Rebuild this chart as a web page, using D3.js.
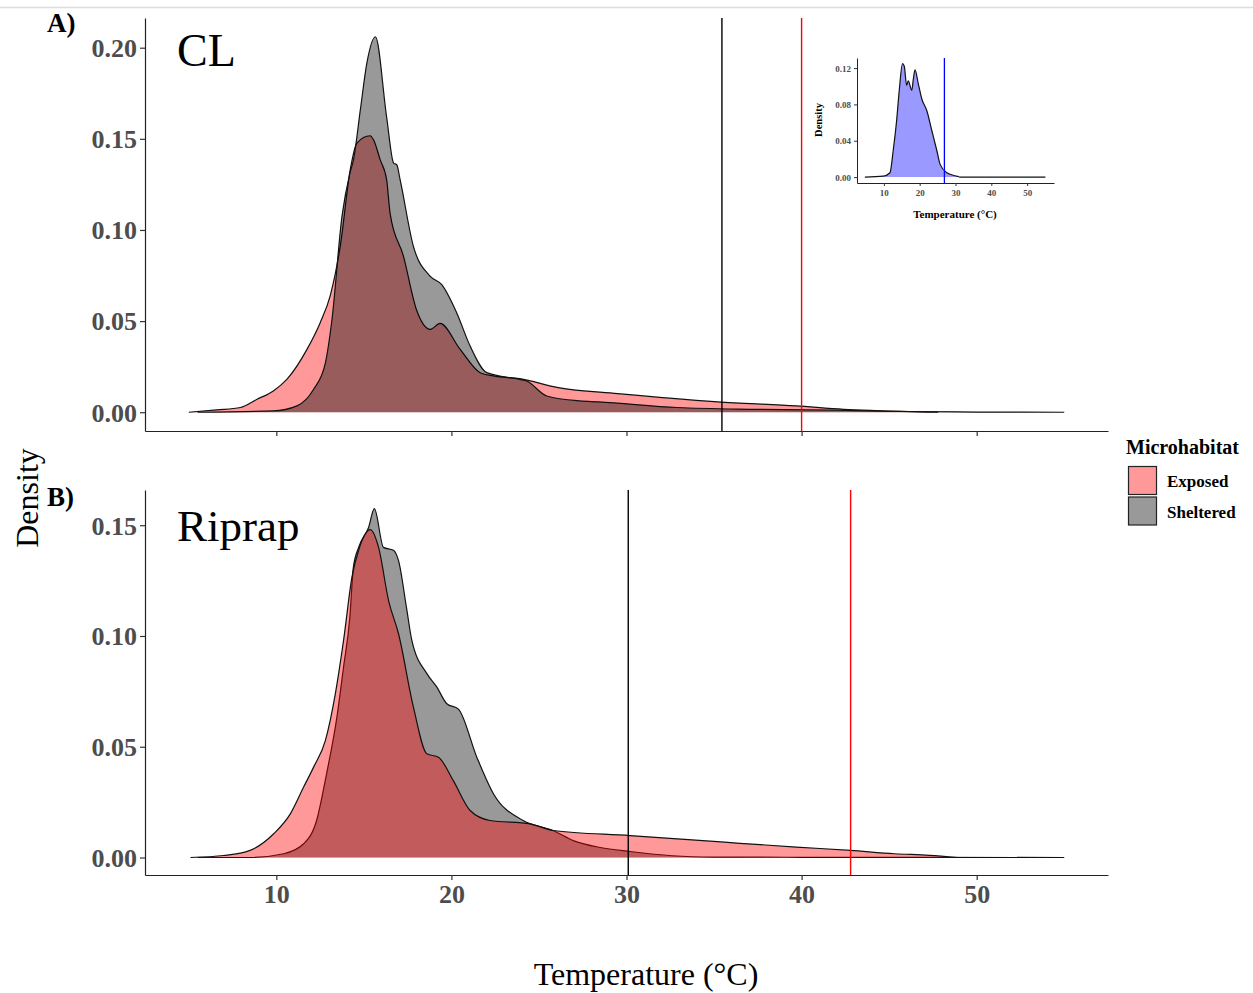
<!DOCTYPE html>
<html lang="en">
<head>
  <meta charset="UTF-8" />
  <title>Temperature density by microhabitat</title>
  <script src="https://d3js.org/d3.v7.min.js"></script>
  <style>
    body { margin: 0; background: #fff; }
    svg { display: block; font-family: 'Liberation Serif', 'Times New Roman', serif; }
    svg text { font-family: 'Liberation Serif', 'Times New Roman', serif; }
    .tick-label { font-weight: bold; fill: #4d4d4d; }
  </style>
</head>
<body>
  <svg id="chart" width="1253" height="993"></svg>

  <script>
    // Temperature values (°C) and density, per series
    const clExposedT = [5.0, 6.6, 7.95, 8.9, 9.83, 10.6, 11.75, 12.5, 13.08, 13.65, 14.22, 14.6, 15.36, 15.55, 15.93, 16.3, 16.5, 17.26, 18.0, 18.8, 19.35, 20.5, 21.64, 22.4, 23.9, 26.1, 29.5, 35.2, 39.7, 42.4, 44.2, 47.8];
    const clExposedD = [0, 0.0013, 0.0026, 0.0071, 0.0117, 0.018, 0.0345, 0.049, 0.064, 0.091, 0.133, 0.1477, 0.1517, 0.1495, 0.1386, 0.1276, 0.109, 0.0856, 0.0564, 0.0455, 0.0487, 0.0345, 0.0217, 0.0199, 0.0184, 0.0135, 0.0102, 0.0057, 0.0035, 0.0016, 0.0009, 0];

    const clShelteredT = [5.5, 9.8, 11.18, 12.13, 12.8, 13.18, 13.75, 14.2, 14.41, 14.8, 15.17, 15.66, 16.3, 16.7, 16.88, 17.07, 17.83, 18.78, 19.45, 20.3, 21.07, 22.02, 23.9, 24.3, 25.45, 27.35, 28.4, 32.9, 37.4, 41.9, 46.0, 50.0, 55.0];
    const clShelteredD = [0, 0.0007, 0.0035, 0.0126, 0.027, 0.051, 0.1075, 0.131, 0.1386, 0.166, 0.1915, 0.206, 0.162, 0.1367, 0.1358, 0.1276, 0.091, 0.0747, 0.070, 0.0546, 0.0363, 0.0217, 0.018, 0.0171, 0.0089, 0.0062, 0.0057, 0.0026, 0.0016, 0.0011, 0.0004, 0.0001, 0];

    const ripExposedT = [5.1, 7.0, 8.5, 9.85, 10.8, 11.56, 12.13, 12.8, 13.37, 13.84, 14.32, 14.7, 15.36, 15.84, 16.41, 16.98, 17.83, 18.6, 19.26, 20.1, 21.07, 22.2, 24.5, 25.8, 30.2, 35.6, 39.7, 42.8, 45.3, 47.3, 48.9];
    const ripExposedD = [0, 0.0009, 0.0032, 0.0107, 0.0197, 0.0318, 0.0408, 0.0528, 0.0739, 0.098, 0.1266, 0.1387, 0.148, 0.140, 0.116, 0.101, 0.0679, 0.0468, 0.0453, 0.0348, 0.0212, 0.0167, 0.0152, 0.0122, 0.0099, 0.0069, 0.0047, 0.0032, 0.0017, 0.001, 0];

    const ripShelteredT = [5.5, 8.5, 10.42, 11.56, 12.3, 12.87, 13.46, 13.84, 14.2, 14.4, 14.7, 15.27, 15.6, 16.12, 16.69, 16.98, 17.45, 17.74, 18.6, 19.17, 19.74, 20.4, 21.45, 22.4, 24.1, 25.8, 27.0, 28.5, 30.2, 32.6, 35.0, 40.0, 55.0];
    const ripShelteredD = [0, 0, 0.0017, 0.0062, 0.0167, 0.0378, 0.0634, 0.086, 0.1085, 0.131, 0.140, 0.149, 0.1575, 0.140, 0.1387, 0.134, 0.112, 0.098, 0.083, 0.0769, 0.0694, 0.067, 0.0453, 0.0288, 0.0167, 0.0122, 0.0075, 0.0045, 0.0027, 0.0008, 0.0002, 0.0001, 0];

    // inset: single blue density
    const insetT = [4.7, 9.8, 11.7, 12.6, 13.56, 14.3, 15.2, 15.7, 16.35, 16.8, 17.8, 18.2, 18.7, 19.6, 20.6, 22.0, 23.4, 24.8, 25.7, 27.6, 30.4, 31.3, 55.1];
    const insetD = [0, 0.001, 0.0048, 0.029, 0.062, 0.0956, 0.125, 0.122, 0.101, 0.106, 0.0956, 0.107, 0.118, 0.103, 0.086, 0.073, 0.051, 0.029, 0.014, 0.0048, 0.001, 0, 0];

    // vertical reference lines
    const clLines = [{ x: 35.45, color: "#000" }, { x: 40.0, color: "#ff0000" }];
    const ripLines = [{ x: 30.1, color: "#000" }, { x: 42.8, color: "#ff0000" }];
    const insetLine = 26.9;

    const xTicks = [10, 20, 30, 40, 50];
    const clYTicks = [0, 0.05, 0.10, 0.15, 0.20];
    const ripYTicks = [0, 0.05, 0.10, 0.15];
    const insetYTicks = [0, 0.04, 0.08, 0.12];

    const legendLabels = ["Exposed", "Sheltered"];
    const legendFills = ["rgba(255,0,0,0.4)", "rgba(0,0,0,0.4)"];

    const svg = d3.select('#chart');

    // faint line along the top of the image
    svg.append('line').attr('x1', 0).attr('x2', 1253).attr('y1', 7.5).attr('y2', 7.5)
      .attr('stroke', '#dcdcdc').attr('stroke-width', 1.5);

    const zip = (ts, ds) => ts.map((t, i) => ({ t, d: ds[i] }));

    function drawPanel(opts) {
      const g = svg.append('g');
      const x = d3.scaleLinear().domain([2.5, 57.5]).range(opts.xRange);
      const y = d3.scaleLinear().domain(opts.yDomain).range(opts.yRange);

      const area = d3.area().curve(d3.curveMonotoneX)
        .x(d => x(d.t)).y0(y(0)).y1(d => y(d.d));
      const line = d3.line().curve(d3.curveMonotoneX)
        .x(d => x(d.t)).y(d => y(d.d));

      opts.series.forEach(s => {
        const pts = zip(s.t, s.d);
        g.append('path').attr('d', area(pts)).attr('fill', s.fill);
        g.append('path').attr('d', line(pts)).attr('fill', 'none')
          .attr('stroke', '#111').attr('stroke-width', opts.lw);
      });

      opts.vlines.forEach(v => {
        g.append('line')
          .attr('x1', x(v.x)).attr('x2', x(v.x))
          .attr('y1', opts.yRange[1]).attr('y2', opts.yRange[0])
          .attr('stroke', v.color).attr('stroke-width', opts.vw);
      });

      // axes
      const yAxis = d3.axisLeft(y).tickValues(opts.yTicks)
        .tickFormat(d3.format(opts.yFmt)).tickSize(opts.tick).tickSizeOuter(0);
      const xAxis = d3.axisBottom(x).tickValues(xTicks)
        .tickSize(opts.tick).tickSizeOuter(0);

      const ya = g.append('g').attr('transform', `translate(${opts.xRange[0]},0)`).call(yAxis);
      const xa = g.append('g').attr('transform', `translate(0,${opts.yRange[0]})`).call(xAxis);
      [ya, xa].forEach(a => {
        a.attr('font-family', null);
        a.select('.domain').attr('stroke', '#222').attr('stroke-width', opts.aw);
        a.selectAll('.tick line').attr('stroke', '#333').attr('stroke-width', opts.aw);
        a.selectAll('.tick text').attr('class', 'tick-label')
          .style('font-size', opts.fs + 'px').attr('fill', '#4d4d4d');
      });
      ya.selectAll('.tick text').attr('x', -opts.tick - opts.pad).attr('dy', '0.34em');
      if (opts.showXLabels) {
        xa.selectAll('.tick text').attr('y', opts.tick + opts.pad).attr('dy', '0.75em');
      } else {
        xa.selectAll('.tick text').remove();
      }
      return g;
    }

    // Panel A: CL (sheltered drawn over exposed)
    drawPanel({
      xRange: [145, 1108], yRange: [431, 18], yDomain: [-0.0103, 0.2163],
      yTicks: clYTicks, yFmt: '.2f', series: [
        { t: clExposedT, d: clExposedD, fill: legendFills[0] },
        { t: clShelteredT, d: clShelteredD, fill: legendFills[1] }
      ],
      vlines: clLines, lw: 1.2, vw: 1.4, aw: 1.2, tick: 5, pad: 3, fs: 26, showXLabels: false
    });

    // Panel B: Riprap (exposed drawn over sheltered)
    drawPanel({
      xRange: [145, 1108], yRange: [875, 490], yDomain: [-0.0079, 0.1659],
      yTicks: ripYTicks, yFmt: '.2f', series: [
        { t: ripShelteredT, d: ripShelteredD, fill: legendFills[1] },
        { t: ripExposedT, d: ripExposedD, fill: legendFills[0] }
      ],
      vlines: ripLines, lw: 1.2, vw: 1.4, aw: 1.2, tick: 5, pad: 3, fs: 26, showXLabels: true
    });

    // Inset
    drawPanel({
      xRange: [857, 1054], yRange: [183, 58], yDomain: [-0.0065, 0.1311],
      yTicks: insetYTicks, yFmt: '.2f', series: [
        { t: insetT, d: insetD, fill: 'rgba(0,0,255,0.4)' }
      ],
      vlines: [{ x: insetLine, color: '#0000ff' }], lw: 1.2, vw: 1.3, aw: 1, tick: 3, pad: 3, fs: 9, showXLabels: true
    });

    // panel tags and titles
    const txt = (x, y, s, size, weight, anchor) => svg.append('text')
      .attr('x', x).attr('y', y).text(s)
      .style('font-size', size + 'px').style('font-weight', weight || 'normal')
      .attr('text-anchor', anchor || 'start').attr('fill', '#000');

    txt(47, 32, 'A)', 27, 'bold');
    txt(47, 506, 'B)', 27, 'bold');
    txt(177, 66, 'CL', 46);
    txt(177, 541, 'Riprap', 45);

    txt(646, 985, 'Temperature (°C)', 32, 'normal', 'middle');
    svg.append('text').attr('transform', 'translate(38,498) rotate(-90)')
      .attr('text-anchor', 'middle').style('font-size', '32px').text('Density');

    // inset axis titles
    txt(955, 218, 'Temperature (°C)', 11, 'bold', 'middle');
    svg.append('text').attr('transform', 'translate(822,120) rotate(-90)')
      .attr('text-anchor', 'middle').style('font-size', '10.5px').style('font-weight', 'bold').text('Density');

    // legend
    txt(1126, 454, 'Microhabitat', 20, 'bold');
    const leg = svg.append('g');
    legendLabels.forEach((lab, i) => {
      leg.append('rect').attr('x', 1128.5).attr('y', 466.5 + i * 30.5)
        .attr('width', 28).attr('height', 28)
        .attr('fill', legendFills[i]).attr('stroke', '#222').attr('stroke-width', 1.2);
      txt(1167, 487 + i * 30.5, lab, 17, 'bold');
    });
  </script>
</body>
</html>
